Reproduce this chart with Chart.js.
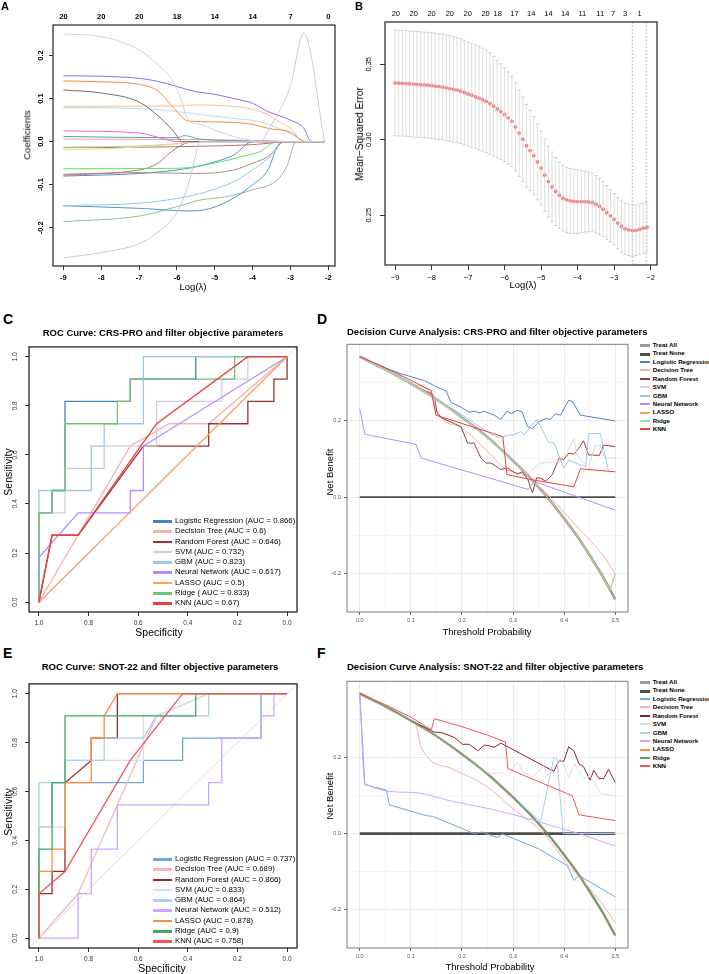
<!DOCTYPE html>
<html><head><meta charset="utf-8">
<script src="https://cdn.jsdelivr.net/npm/chart.js@4.4.1/dist/chart.umd.min.js"></script>
<style>
body{margin:0;background:#fff;}
#fig{position:relative;width:709px;height:974px;overflow:hidden;font-family:"Liberation Sans",Arial,sans-serif;color:#000;}
canvas{position:absolute;}
.t{position:absolute;white-space:nowrap;line-height:1;}
.c{transform:translate(-50%,-50%);}
.r{transform:translate(-50%,-50%) rotate(-90deg);}
.l{transform:translateY(-50%);}
.lab{font-weight:bold;font-size:14px;}
.lg{position:absolute;font-size:7.8px;}
.lg div{position:relative;padding-left:22px;white-space:nowrap;height:10.3px;line-height:10.3px;}
.lg span{position:absolute;left:0;top:4px;width:19px;height:2.5px;}
.dl{position:absolute;font-size:6.2px;font-weight:bold;}
.dl div{position:relative;padding-left:12.7px;white-space:nowrap;height:8.43px;line-height:8.43px;}
.dl span{position:absolute;left:0;top:3.2px;width:10px;height:2px;}
</style></head>
<body><div id="fig">
<canvas id="cA" width="340" height="300" style="left:0;top:0"></canvas>
<canvas id="cB" width="354" height="300" style="left:355px;top:0"></canvas>
<canvas id="cC" width="305" height="294" style="left:0;top:338px"></canvas>
<canvas id="cD" width="313" height="294" style="left:320px;top:338px"></canvas>
<canvas id="cE" width="305" height="293" style="left:0;top:675px"></canvas>
<canvas id="cF" width="313" height="293" style="left:320px;top:675px"></canvas>

<div class="t lab" style="left:1px;top:1px;font-size:11px">A</div>
<div class="t lab" style="left:355px;top:1px;font-size:11px">B</div>
<div class="t lab" style="left:3px;top:312px">C</div>
<div class="t lab" style="left:317px;top:312px">D</div>
<div class="t lab" style="left:3px;top:646px">E</div>
<div class="t lab" style="left:317px;top:646px">F</div>

<div class="t r" style="left:27px;top:135px;font-size:9.5px">Coefficients</div>
<div class="t c" style="left:193px;top:287px;font-size:9.5px">Log(λ)</div>
<div class="t r" style="left:360px;top:134px;font-size:10px">Mean−Squared Error</div>
<div class="t c" style="left:523px;top:285px;font-size:9.5px">Log(λ)</div>

<div class="t c" style="left:163px;top:333px;font-size:9.5px;font-weight:bold">ROC Curve: CRS-PRO and filter objective parameters</div>
<div class="t r" style="left:8px;top:472px;font-size:10.5px">Sensitivity</div>
<div class="t c" style="left:159px;top:632px;font-size:10.5px">Specificity</div>

<div class="t l" style="left:347px;top:332px;font-size:9.5px;font-weight:bold">Decision Curve Analysis: CRS-PRO and filter objective parameters</div>
<div class="t r" style="left:330px;top:472px;font-size:9.5px">Net Benefit</div>
<div class="t c" style="left:487px;top:632px;font-size:9.5px">Threshold Probability</div>

<div class="t c" style="left:160px;top:667px;font-size:9.5px;font-weight:bold">ROC Curve: SNOT-22 and filter objective parameters</div>
<div class="t r" style="left:8px;top:812px;font-size:10.5px">Sensitivity</div>
<div class="t c" style="left:162px;top:968px;font-size:10.5px">Specificity</div>

<div class="t l" style="left:347px;top:667px;font-size:9.5px;font-weight:bold">Decision Curve Analysis: SNOT-22 and filter objective parameters</div>
<div class="t r" style="left:330px;top:796px;font-size:9.5px">Net Benefit</div>
<div class="t c" style="left:490px;top:967px;font-size:9.5px">Threshold Probability</div>

<div class="lg" id="legC" style="left:153px;top:516px"></div>
<div class="lg" id="legE" style="left:153px;top:854px"></div>
<div class="dl" id="legD" style="left:640px;top:341px"></div>
<div class="dl" id="legF" style="left:640px;top:678px"></div>
</div>
<script>
// ---------- A: lasso coefficient paths ----------
const lamTicks = [-9, -8, -7, -6, -5, -4, -3, -2];
const topLabA = ['20', '20', '20', '18', '14', '14', '7', '0'];
const coefTicks = [-0.2, -0.1, 0, 0.1, 0.2];
const coefPaths = [
  [[-9,.25],[-8,.244],[-7,.213],[-6.5,.178],[-6.1,.14],[-5.9,.1],[-5.7,.05],[-5.4,.04],[-5,.027],[-4.5,.012],[-4,.002],[-3.9,0],[-2.1,0]],
  [[-9,-.27],[-8,-.258],[-7,-.237],[-6.5,-.21],[-6,-.165],[-5.7,-.1],[-5.5,-.03],[-5.4,0],[-3.8,0],[-3.5,.04],[-3.3,.07],[-3,.13],[-2.65,.252],[-2.1,0]],
  [[-9,.153],[-8,.152],[-7,.147],[-6.5,.14],[-6,.128],[-5.5,.116],[-5,.11],[-4.5,.1],[-4,.089],[-3.6,.07],[-3,.05],[-2.65,.031],[-2.45,0],[-2.1,0]],
  [[-9,.141],[-8,.139],[-7,.133],[-6.5,.118],[-6.3,.1],[-6,.07],[-5.7,.048],[-5,.046],[-4,.04],[-3.6,.031],[-3,.022],[-2.6,0],[-2.1,0]],
  [[-9,.12],[-8,.113],[-7,.092],[-6.5,.06],[-6.1,.025],[-5.85,0],[-2.1,0]],
  [[-9,.082],[-6,.083],[-5.5,.085],[-4.5,.082],[-4,.075],[-3.6,.063],[-3.3,.046],[-3,.031],[-2.65,0],[-2.1,0]],
  [[-9,.079],[-7,.077],[-6,.07],[-5.3,.062],[-4.5,.054],[-3.8,.046],[-3.1,.023],[-2.55,0],[-2.1,0]],
  [[-9,.025],[-7,.02],[-6.5,.01],[-6.2,.003],[-6,0],[-2.1,0]],
  [[-9,.012],[-6,.009],[-5.8,.014],[-5.4,.006],[-4,.001],[-3.8,0],[-2.1,0]],
  [[-9,.006],[-6,.005],[-4,.003],[-3.5,.002],[-3,0],[-2.1,0]],
  [[-9,-.019],[-8,-.017],[-7,-.012],[-6,-.005],[-5.6,0],[-2.1,0]],
  [[-9,-.013],[-7,-.01],[-6,-.005],[-5.4,0],[-2.1,0]],
  [[-9,-.014],[-7,-.013],[-5,-.01],[-4,-.007],[-3.5,-.003],[-3.2,0],[-2.1,0]],
  [[-9,-.063],[-6,-.062],[-5,-.05],[-4.3,-.035],[-3.8,-.023],[-3.35,0],[-2.1,0]],
  [[-9,-.076],[-7,-.066],[-6.5,-.05],[-6.2,-.027],[-5.8,-.005],[-5.5,0],[-2.1,0]],
  [[-9,-.078],[-7,-.072],[-5.5,-.074],[-4.5,-.066],[-4,-.05],[-3.6,-.035],[-3.15,0],[-2.1,0]],
  [[-9,-.08],[-7,-.074],[-5.7,-.062],[-5,-.047],[-4.5,-.031],[-4,0],[-2.1,0]],
  [[-9,-.149],[-7,-.143],[-6,-.132],[-5.2,-.116],[-4.5,-.093],[-4,-.066],[-3.45,-.027],[-3.2,0],[-2.1,0]],
  [[-9,-.149],[-7,-.155],[-5.7,-.161],[-5.3,-.159],[-4.6,-.136],[-4,-.1],[-3.6,-.066],[-3.35,-.012],[-3.25,0],[-2.1,0]],
  [[-9,-.186],[-7,-.173],[-6,-.151],[-5.4,-.136],[-4.7,-.128],[-4,-.112],[-3.35,-.089],[-3.1,-.058],[-2.85,0],[-2.1,0]]
];
const coefColors = ['#D2D2DE','#CACADA','#8C6CF0','#F58A3C','#707070','#FDC08A','#B8DDF0','#F060E0','#5AA0B0','#E0A0A0',
  '#F0D890','#B0D890','#B07070','#60E060','#C07070','#B08888','#4A90C0','#90C8EA','#5098C8','#90C090'];

// ---------- B: cross-validation curve ----------
const lamB = [-9.0,-8.9,-8.8,-8.7,-8.6,-8.5,-8.4,-8.3,-8.2,-8.1,-8.0,-7.9,-7.8,-7.7,-7.6,-7.5,-7.4,-7.3,-7.2,-7.1,
  -7.0,-6.9,-6.8,-6.7,-6.6,-6.5,-6.4,-6.3,-6.2,-6.1,-6.0,-5.9,-5.8,-5.7,-5.6,-5.5,-5.4,-5.3,-5.2,-5.1,
  -5.0,-4.9,-4.8,-4.7,-4.6,-4.5,-4.4,-4.3,-4.2,-4.1,-4.0,-3.9,-3.8,-3.7,-3.6,-3.5,-3.4,-3.3,-3.2,-3.1,
  -3.0,-2.9,-2.8,-2.7,-2.6,-2.5,-2.4,-2.3,-2.2,-2.1];
const mseB = [.3376,.3375,.3374,.3372,.3371,.3369,.3367,.3365,.3363,.3361,.3358,.3355,.3352,.3348,.3344,.3339,.3334,.3328,.3322,.3313,
  .3303,.3295,.3285,.3275,.3265,.3254,.3240,.3222,.3204,.3186,.3166,.3145,.3122,.3085,.3044,.3003,.2960,.2928,.2894,.2853,
  .2812,.2765,.2723,.2688,.2657,.2632,.2613,.2602,.2595,.2592,.2590,.2590,.2590,.2588,.2584,.2573,.2558,.2540,.2518,.2496,
  .2473,.2448,.2425,.2410,.2403,.2398,.2400,.2406,.2414,.2420];
const seB = [.035,.035,.035,.035,.035,.035,.035,.035,.035,.035,.035,.035,.035,.035,.035,.035,.035,.0348,.0347,.0346,
  .0345,.0344,.0343,.0342,.0341,.034,.0335,.033,.0323,.0317,.031,.0304,.0298,.0292,.0286,.028,.0273,.0266,.0259,.0252,
  .0245,.024,.0235,.023,.0225,.022,.0218,.0216,.0214,.0212,.021,.0206,.0202,.0198,.0194,.019,.0186,.0182,.0178,.0174,
  .017,.017,.017,.017,.017,.017,.0168,.0167,.0166,.0165];
const topPosB = [-8.98,-8.49,-8.0,-7.5,-7.01,-6.52,-6.19,-5.73,-5.27,-4.8,-4.34,-3.87,-3.38,-3.03,-2.7,-2.3];
const topLabB = ['20','20','20','20','20','20','18','17','14','14','14','11','11','7','3','1'];
const mseTicks = [0.25, 0.30, 0.35];
const lamMin = -2.5, lam1se = -2.12;

// ---------- C / E: ROC curves, [specificity, sensitivity] ----------
const models = ['Logistic Regression','Decision Tree','Random Forest','SVM','GBM','Neural Network','LASSO','Ridge','KNN'];
const legC = ['Logistic Regression (AUC = 0.866)','Decision Tree (AUC = 0.6)','Random Forest (AUC = 0.646)','SVM (AUC = 0.732)',
  'GBM (AUC = 0.823)','Neural Network (AUC = 0.617)','LASSO (AUC = 0.5)','Ridge ( AUC = 0.833)','KNN (AUC = 0.67)'];
const legE = ['Logistic Regression (AUC = 0.737)','Decision Tree (AUC = 0.689)','Random Forest (AUC = 0.866)','SVM (AUC = 0.833)',
  'GBM (AUC = 0.864)','Neural Network (AUC = 0.512)','LASSO (AUC = 0.878)','Ridge (AUC = 0.9)','KNN (AUC = 0.758)'];
const rocTicks = [0, 0.2, 0.4, 0.6, 0.8, 1.0];
const chance = [[1.04,-0.04],[-0.04,1.04]];
const rocC = [
  [[1,0],[1,.364],[.947,.364],[.947,.455],[.895,.455],[.895,.818],[.632,.818],[.632,.909],[.368,.909],[.368,1],[0,1]],
  [[1,0],[.632,.636],[.474,.727],[.316,.727],[0,1]],
  [[1,0],[.947,.273],[.842,.273],[.579,.636],[.316,.636],[.316,.727],[.158,.727],[.158,.818],[.053,.818],[.053,.909],[0,.909],[0,1]],
  [[1,0],[1,.364],[.895,.364],[.895,.545],[.737,.545],[.737,.636],[.526,.636],[.526,.818],[.263,.818],[.263,.909],[.158,.909],[.158,1],[0,1]],
  [[1,0],[1,.455],[.789,.455],[.789,.636],[.737,.636],[.737,.727],[.579,.727],[.579,1],[0,1]],
  [[1,0],[1,.182],[.842,.364],[.632,.364],[.632,.455],[.579,.455],[.579,.636],[0,1]],
  [[1,0],[0,1]],
  [[1,0],[1,.364],[.947,.364],[.947,.455],[.895,.455],[.895,.727],[.684,.727],[.684,.818],[.632,.818],[.632,.909],[.211,.909],[.211,1],[0,1]],
  [[1,0],[.947,.273],[.842,.273],[.526,.727],[.158,1],[0,1]]
];
const colC = ['#4682C0','#F4B3B3','#9B3333','#CDCDE0','#9CC9E4','#B48CFF','#FDA160','#74C274','#EE3B3B'];
const rocE = [
  [[1,0],[1,.455],[.947,.455],[.947,.636],[.895,.636],[.579,.636],[.579,.727],[.421,.727],[.421,.818],[.105,.818],[.105,1],[0,1]],
  [[1,0],[.842,.182],[.526,.909],[.316,1],[0,1]],
  [[1,0],[1,.182],[.947,.182],[.947,.273],[.895,.273],[.895,.636],[.789,.727],[.789,.818],[.684,.818],[.684,1],[0,1]],
  [[1,0],[1,.455],[.895,.455],[.895,.727],[.579,.727],[.579,.909],[.526,.909],[.316,1],[0,1]],
  [[1,0],[1,.636],[.895,.636],[.895,.727],[.737,.727],[.737,.818],[.579,.818],[.526,.909],[.316,.909],[.316,1],[0,1]],
  [[1,0],[.842,0],[.842,.182],[.789,.182],[.789,.364],[.684,.364],[.684,.545],[.316,.545],[.316,.636],[.263,.636],[.263,.818],[.105,.818],[.105,.909],[.053,.909],[.053,1],[0,1]],
  [[1,0],[1,.273],[.947,.273],[.947,.364],[.895,.364],[.895,.636],[.789,.636],[.789,.818],[.737,.818],[.737,.909],[.684,1],[0,1]],
  [[1,0],[1,.364],[.947,.364],[.947,.636],[.895,.636],[.895,.909],[.368,.909],[.368,1],[0,1]],
  [[1,0],[1,.182],[.895,.273],[.632,.727],[.421,1],[0,1]]
];
const colE = ['#6FA8DC','#F4B6B6','#9E2B2B','#DCDCE8','#A9D0EC','#C9A6FF','#FD8D3C','#41AB5D','#F05555'];

// ---------- D / F: decision curves ----------
const dcaLabels = ['Treat All','Treat None'].concat(models);
const tAll = [0,.025,.05,.075,.1,.125,.15,.175,.2,.225,.25,.275,.3,.325,.35,.375,.4,.425,.45,.475,.5];
const nbAll = [.367,.350,.333,.315,.296,.276,.255,.232,.208,.183,.156,.126,.095,.062,.026,-.013,-.056,-.101,-.152,-.206,-.267];
const tNone = [0, .5], nbNone = [0, 0];
const xTicksDca = [0,.05,.1,.15,.2,.25,.3,.35,.4,.45,.5];
const yTicksDca = [-.2,-.1,0,.1,.2,.3];

const dLR = [[0,.05,.081,.114,.127,.146,.169,.179,.198,.214,.224,.234,.244,.263,.276,.288,.297,.308,.318,.328,.338,.351,.364,.373,.383,.393,.409,.416,.432,.5],
  [.367,.337,.322,.309,.304,.291,.277,.247,.235,.222,.224,.220,.224,.214,.203,.224,.218,.227,.222,.185,.179,.197,.205,.203,.218,.214,.253,.250,.214,.199]];
const dDT = [[0,.05,.1,.14,.149,.2,.25,.282,.328,.35,.38,.412,.445,.475,.5],
  [.367,.333,.296,.27,.225,.18,.12,.076,.054,.03,-.01,-.058,-.105,-.15,-.2]];
const dRF = [[0,.05,.1,.14,.146,.151,.16,.198,.211,.224,.237,.247,.257,.276,.289,.308,.318,.329,.338,.346,.354,.364,.377,.39,.399,.409,.419,.429,.438,.448,.469,.477,.5],
  [.367,.333,.296,.27,.261,.222,.207,.184,.141,.141,.102,.089,.089,.072,.076,.06,.066,.046,.011,.05,.05,.041,.059,.102,.097,.115,.112,.128,.147,.11,.109,.136,.132]];
const dSVM = [[0,.1,.2,.3,.328,.341,.354,.38,.393,.406,.419,.425,.438,.448,.461,.471,.48,.5],
  [.367,.296,.208,.095,.059,.076,.089,.091,.093,.119,.152,.11,.09,.08,.136,.132,.102,.102]];
const dGBM = [[0,.1,.2,.25,.269,.3,.315,.321,.347,.37,.38,.399,.409,.432,.442,.448,.471,.487],
  [.367,.3,.215,.17,.156,.163,.171,.162,.203,.142,.142,.076,.097,.084,.08,.166,.166,.067]];
const dNN = [[0,.01,.11,.12,.33,.341,.5], [.231,.164,.138,.102,.02,.041,-.034]];
const dLASSO = [[0,.025,.05,.075,.1,.125,.15,.175,.2,.225,.25,.275,.3,.325,.35,.375,.4,.425,.45,.475,.49,.5],
  [.367,.350,.333,.315,.296,.276,.255,.232,.208,.183,.156,.126,.095,.062,.026,-.013,-.056,-.101,-.152,-.206,-.242,-.2]];
const dRidge = dLASSO;
const dKNN = [[0,.05,.1,.14,.149,.28,.288,.334,.419,.432,.5], [.367,.338,.305,.278,.214,.158,.059,.046,.027,.074,.066]];
const colD = ['#9A9A9A','#4D4D4D','#4A86C5','#F4AFAF','#9E3B3B','#D8D8E6','#9ECAE1','#B48CFF','#FDA160','#A8D8A0','#EE3B3B'];

const fLR = [[0,.01,.052,.058,.13,.143,.224,.24,.269,.279,.35,.406,.419,.429,.5],
  [.367,.128,.114,.075,.047,.045,0,.004,-.011,-.001,-.04,-.084,-.123,-.11,-.166]];
const fDT = [[0,.05,.1,.11,.12,.18,.25,.3,.36,.406,.445,.475,.5],
  [.367,.333,.296,.286,.226,.17,.122,.065,0,-.08,-.136,-.185,-.234]];
const fRF = [[0,.05,.1,.14,.146,.159,.185,.201,.214,.231,.244,.256,.263,.276,.38,.39,.399,.409,.419,.429,.438,.451,.458,.468,.477,.487,.5],
  [.367,.333,.296,.27,.266,.265,.252,.234,.234,.217,.232,.229,.226,.237,.163,.191,.189,.227,.217,.183,.175,.14,.166,.144,.144,.168,.134]];
const fSVM = [[0,.1,.2,.25,.26,.28,.29,.308,.321,.34,.36,.367,.393,.409,.42,.438,.451,.471,.5],
  [.367,.296,.208,.16,.157,.16,.15,.187,.161,.148,.178,.152,.196,.148,.183,.144,.152,.105,.099]];
const fGBM = [[0,.05,.1,.15,.2,.25,.3,.354,.38,.386,.398,.5], [.367,.333,.296,.255,.208,.156,.095,.032,.2,.195,0,0]];
const fNN = [[0,.01,.1,.18,.25,.3,.38,.44,.5], [.367,.131,.108,.085,.066,.05,.019,-.005,-.033]];
const fLASSO = [tAll, nbAll];
const fRidge = [tAll, nbAll];
const fKNN = [[0,.05,.1,.14,.146,.2,.25,.285,.29,.416,.429,.5], [.367,.338,.305,.272,.301,.28,.258,.24,.17,.099,.049,.034]];
const colF = ['#9A9A9A','#4D4D4D','#6FA8DC','#F4B0B0','#8B2323','#DCDCE8','#A9D0EC','#C9A6FF','#FD8D3C','#4DA64D','#F05555'];

// ---------- helpers ----------
Chart.defaults.font.family = '"Liberation Sans", Arial, sans-serif';

const boxPlugin = {
  id: 'box',
  afterDraw(chart, args, o) {
    const a = chart.chartArea, c = chart.ctx;
    c.save();
    c.strokeStyle = o.color || '#000';
    c.lineWidth = o.width || 1;
    c.strokeRect(a.left, a.top, a.right - a.left, a.bottom - a.top);
    c.restore();
  }
};
const vlinePlugin = {
  id: 'vlines',
  beforeDatasetsDraw(chart, args, o) {
    if (!o.values) return;
    const s = chart.scales.x, a = chart.chartArea, c = chart.ctx;
    c.save();
    c.strokeStyle = '#9a9a9a';
    c.lineWidth = 0.8;
    c.setLineDash([1.5, 2]);
    o.values.forEach(v => {
      const px = s.getPixelForValue(v);
      c.beginPath(); c.moveTo(px, a.top); c.lineTo(px, a.bottom); c.stroke();
    });
    c.restore();
  }
};

function pairs(p) { return p.map(d => ({x: d[0], y: d[1]})); }
function lists(xs, ys) { return xs.map((x, i) => ({x: x, y: ys[i]})); }
function lineDs(data, color, width, mono) {
  return {data: data, borderColor: color, backgroundColor: color, borderWidth: width, pointRadius: 0, pointHoverRadius: 0,
    showLine: true, fill: false, tension: 0, cubicInterpolationMode: mono ? 'monotone' : 'default'};
}
function axis(o) {
  return {
    type: 'linear', position: o.pos, axis: o.axis, min: o.min, max: o.max, reverse: !!o.reverse,
    afterBuildTicks: s => { s.ticks = o.ticks.map(v => ({value: v})); },
    afterFit: s => { if (o.pos === 'left') s.width = o.size; else s.height = o.size; },
    border: {display: false},
    grid: {drawOnChartArea: !!o.grid, color: o.grid || '#000', tickColor: o.tickColor || '#000',
      tickLength: o.tickLen || 0, drawTicks: !!o.tickLen, lineWidth: 0.8},
    ticks: {autoSkip: false, callback: o.fmt, padding: o.pad, color: o.color || '#000',
      font: {size: o.fs, weight: o.bold ? 'bold' : 'normal'},
      minRotation: o.rot || 0, maxRotation: o.rot || 0, crossAlign: o.rot ? 'center' : 'near'}
  };
}
function opts(scales, padding, plug) {
  return {responsive: false, animation: false, devicePixelRatio: 1, events: [], layout: {padding: padding},
    plugins: Object.assign({legend: {display: false}, tooltip: {enabled: false}}, plug), scales: scales};
}
function ordered(list) { return list.map((d, i) => Object.assign(d, {order: list.length - i})); }

// ---------- A ----------
new Chart(document.getElementById('cA'), {
  type: 'scatter',
  data: {datasets: coefPaths.map((p, i) => lineDs(pairs(p), coefColors[i], 1, true))},
  options: opts({
    x: axis({pos: 'bottom', min: -9.276, max: -1.824, ticks: lamTicks, size: 34, tickLen: 4, pad: 3, fs: 7.5, bold: true,
      fmt: v => String(v)}),
    x2: axis({pos: 'top', axis: 'x', min: -9.276, max: -1.824, ticks: lamTicks, size: 25, pad: 4, fs: 7.5, bold: true,
      fmt: (v, i) => topLabA[i]}),
    y: axis({pos: 'left', min: -0.289, max: 0.271, ticks: coefTicks, size: 53, tickLen: 4, pad: 2, fs: 7.5, bold: true, rot: 90,
      fmt: v => v.toFixed(1)})
  }, {right: 5}, {box: {color: '#222', width: 1.2}}),
  plugins: [boxPlugin]
});

// ---------- B ----------
const barData = [], capData = [];
lamB.forEach((l, i) => {
  barData.push({x: l, y: mseB[i] - seB[i]}, {x: l, y: mseB[i] + seB[i]}, {x: l, y: null});
  capData.push({x: l, y: mseB[i] - seB[i]}, {x: l, y: mseB[i] + seB[i]});
});
new Chart(document.getElementById('cB'), {
  type: 'scatter',
  data: {datasets: ordered([
    {data: lists(lamB, mseB), pointRadius: 1.9, pointBackgroundColor: '#F47C7C', pointBorderWidth: 0, showLine: false},
    {data: capData, pointStyle: 'line', pointRadius: 1.6, pointBorderColor: '#C4C4C4', pointBorderWidth: 0.8, showLine: false},
    {data: barData, borderColor: '#CFCFCF', borderWidth: 0.7, pointRadius: 0, showLine: true, spanGaps: false}
  ])},
  options: opts({
    x: axis({pos: 'bottom', min: -9.276, max: -1.824, ticks: lamTicks, size: 35, tickLen: 5, pad: 3, fs: 7.5,
      fmt: v => String(v).replace('-', '\u2212')}),
    x2: axis({pos: 'top', axis: 'x', min: -9.276, max: -1.824, ticks: topPosB, size: 22, pad: 4, fs: 7.5,
      fmt: (v, i) => topLabB[i]}),
    y: axis({pos: 'left', min: 0.217, max: 0.378, ticks: mseTicks, size: 30, tickLen: 5, pad: 4, fs: 7.5, rot: 90,
      fmt: v => v.toFixed(2)})
  }, {right: 52}, {box: {color: '#222', width: 1.2}, vlines: {values: [lamMin, lam1se]}}),
  plugins: [boxPlugin, vlinePlugin]
});

// ---------- C / E ----------
function rocChart(id, curves, colors) {
  const ds = [lineDs(pairs(chance), '#DADADA', 0.9)].concat(curves.map((c, i) => lineDs(pairs(c), colors[i], 1.3)));
  new Chart(document.getElementById(id), {
    type: 'scatter',
    data: {datasets: ordered(ds)},
    options: opts({
      x: axis({pos: 'bottom', min: -0.04, max: 1.04, reverse: true, ticks: rocTicks, size: 20, tickLen: 4, pad: 3, fs: 6.5,
        color: '#333', fmt: v => v.toFixed(1)}),
      y: axis({pos: 'left', min: -0.04, max: 1.04, ticks: rocTicks, size: 29, tickLen: 4, pad: 5, fs: 6.5, rot: 90,
        color: '#333', fmt: v => v.toFixed(1)})
    }, {right: 8, top: 4}, {box: {color: '#111', width: 1.2}}),
    plugins: [boxPlugin]
  });
}
rocChart('cC', rocC, colC);
rocChart('cE', rocE, colE);

function rocLegend(id, labels, colors) {
  const el = document.getElementById(id);
  labels.forEach((txt, i) => {
    const row = document.createElement('div');
    row.innerHTML = '<span style="background:' + colors[i] + '"></span>' + txt;
    el.appendChild(row);
  });
}
rocLegend('legC', legC, colC);
rocLegend('legE', legE, colE);

// ---------- D / F ----------
function dcaChart(id, series, colors, noneWidth) {
  const widths = [2.6, noneWidth, 1, 1, 1, 1, 1, 1, 1, 1, 1];
  const ds = series.map((s, i) => lineDs(lists(s[0], s[1]), colors[i], widths[i], s[2]));
  new Chart(document.getElementById(id), {
    type: 'scatter',
    data: {datasets: ordered(ds)},
    options: opts({
      x: axis({pos: 'bottom', min: -0.025, max: 0.525, ticks: xTicksDca, size: 20, tickLen: 3, pad: 2, fs: 5.5, color: '#555',
        grid: c => c.index % 2 === 0 ? '#E6E6E6' : '#F3F3F3',
        tickColor: c => c.index % 2 === 0 ? '#444' : 'rgba(0,0,0,0)',
        fmt: (v, i) => i % 2 === 0 ? v.toFixed(1) : ''}),
      y: axis({pos: 'left', min: -0.3, max: 0.399, ticks: yTicksDca, size: 27, tickLen: 3, pad: 3, fs: 5.5, color: '#555',
        grid: c => c.index % 2 === 0 ? '#E6E6E6' : '#F3F3F3',
        tickColor: c => c.index % 2 === 0 ? '#444' : 'rgba(0,0,0,0)',
        fmt: (v, i) => i % 2 === 0 ? v.toFixed(1) : ''})
    }, {right: 5, top: 4}, {box: {color: '#7A7A7A', width: 1}}),
    plugins: [boxPlugin]
  });
}
dcaChart('cD', [[tAll, nbAll, true], [tNone, nbNone], dLR, [dDT[0], dDT[1], true], dRF, dSVM, dGBM, dNN, dLASSO, dRidge, dKNN], colD, 1.8);
dcaChart('cF', [[tAll, nbAll, true], [tNone, nbNone], fLR, [fDT[0], fDT[1], true], fRF, fSVM, fGBM, [fNN[0], fNN[1], true],
  [fLASSO[0], fLASSO[1], true], [fRidge[0], fRidge[1], true], fKNN], colF, 2.8);

function dcaLegend(id, colors) {
  const el = document.getElementById(id);
  dcaLabels.forEach((txt, i) => {
    const row = document.createElement('div');
    const h = i < 2 ? 3 : 2;
    row.innerHTML = '<span style="background:' + colors[i] + ';height:' + h + 'px"></span>' + txt;
    el.appendChild(row);
  });
}
dcaLegend('legD', colD);
dcaLegend('legF', colF);
</script>
</body></html>
